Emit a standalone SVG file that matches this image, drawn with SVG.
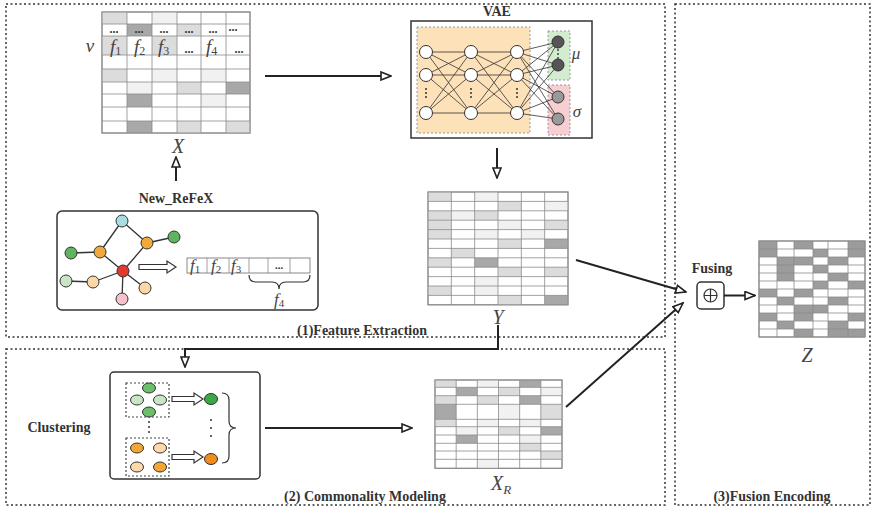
<svg xmlns="http://www.w3.org/2000/svg" width="876" height="511" viewBox="0 0 876 511">
  <defs>
    <style>
      .region{fill:none;stroke:#333;stroke-width:1.5;stroke-dasharray:2 2.5}
      .box{fill:#fff;stroke:#333;stroke-width:1.5}
      .L{fill:#dcdcdc}
      .V{fill:#f1f1f1}
      .D{fill:#a8a8a8}
      .Zd{fill:#9c9c9c}
      .cellbg{fill:#fff;stroke:#8a8a8a;stroke-width:1}
      .grid{fill:none;stroke:#8a8a8a;stroke-width:0.8}
      .lbl{font-family:"Liberation Serif",serif;font-weight:bold;font-size:14px;fill:#333}
      .math{font-family:"Liberation Serif",serif;font-style:italic;fill:#444}
      .edge{fill:none;stroke:#222;stroke-width:2}
      .thin{stroke:#333;stroke-width:0.8}
      .gedge{stroke:#333;stroke-width:1.3}
      .node{stroke:#333;stroke-width:1}
      .dbl{fill:#fff;stroke:#333;stroke-width:1.2}
      .dash{fill:none;stroke:#444;stroke-width:1.2;stroke-dasharray:2 2}
    </style>
    <marker id="open" viewBox="0 0 12 10" refX="11" refY="5" markerWidth="12" markerHeight="10" markerUnits="userSpaceOnUse" orient="auto">
      <path d="M1,1 L11,5 L1,9 Z" fill="#fff" stroke="#222" stroke-width="1.6"/>
    </marker>
  </defs>
  <rect width="876" height="511" fill="#fff"/>

  <!-- stage regions -->
  <g id="regions">
    <rect class="region" x="6" y="4" width="659" height="333"/>
    <rect class="region" x="6" y="349" width="659" height="156"/>
    <rect class="region" x="675" y="4" width="195" height="501"/>
    <text class="lbl" x="362" y="335" text-anchor="middle">(1)Feature Extraction</text>
    <text class="lbl" x="365" y="501" text-anchor="middle">(2)  Commonality Modeling</text>
    <text class="lbl" x="772" y="501" text-anchor="middle">(3)Fusion Encoding</text>
  </g>

  <!-- feature matrix X -->
  <g id="matrix-x">
    <rect class="cellbg" x="102" y="12" width="148" height="121"/>
    <rect class="L" x="102" y="12" width="25" height="12"/>
    <rect class="V" x="152" y="12" width="25" height="12"/>
    <rect class="D" x="127" y="24" width="25" height="12"/>
    <rect class="L" x="177" y="24" width="24" height="12"/>
    <rect class="L" x="102" y="36" width="25" height="19"/>
    <rect class="L" x="152" y="36" width="25" height="19"/>
    <rect class="L" x="102" y="69" width="25" height="13"/>
    <rect class="V" x="152" y="69" width="25" height="13"/>
    <rect class="V" x="201" y="69" width="25" height="13"/>
    <rect class="V" x="127" y="82" width="25" height="12"/>
    <rect class="L" x="177" y="82" width="24" height="12"/>
    <rect class="D" x="226" y="82" width="24" height="12"/>
    <rect class="D" x="127" y="94" width="25" height="13"/>
    <rect class="V" x="201" y="94" width="25" height="13"/>
    <rect class="D" x="127" y="121" width="25" height="12"/>
    <rect class="L" x="177" y="121" width="24" height="12"/>
    <rect class="L" x="226" y="121" width="24" height="12"/>
    <path class="grid" d="M127,12V133M152,12V133M177,12V133M201,12V133M226,12V133M102,24H250M102,36H250M102,55H250M102,69H250M102,82H250M102,94H250M102,107H250M102,121H250"/>
    <rect x="102" y="12" width="148" height="121" fill="none" stroke="#8a8a8a" stroke-width="1"/>
    <g font-family="Liberation Serif, serif" font-size="12" font-weight="bold" fill="#333" text-anchor="middle">
      <text x="114" y="33">...</text>
      <text x="139" y="33">...</text>
      <text x="164" y="33">...</text>
      <text x="189" y="33">...</text>
      <text x="213" y="33">...</text>
      <text x="233" y="31">...</text>
      <text x="189" y="53">...</text>
      <text x="239" y="53">...</text>
    </g>
    <g class="math" font-size="19" fill="#333">
      <text x="110" y="53">f<tspan font-size="12" font-style="normal" dy="2">1</tspan></text>
      <text x="134" y="53">f<tspan font-size="12" font-style="normal" dy="2">2</tspan></text>
      <text x="158" y="53">f<tspan font-size="12" font-style="normal" dy="2">3</tspan></text>
      <text x="206" y="53">f<tspan font-size="12" font-style="normal" dy="2">4</tspan></text>
    </g>
    <text class="math" x="90" y="52" font-size="19" text-anchor="middle">v</text>
    <text class="math" x="178" y="153" font-size="20" text-anchor="middle">X</text>
  </g>

  <!-- VAE encoder -->
  <g id="vae">
    <text class="lbl" x="497" y="16" text-anchor="middle" font-size="15">VAE</text>
    <rect class="box" x="411" y="21" width="181" height="117"/>
    <rect x="417" y="27" width="113" height="106" fill="#fde1b8" stroke="#999" stroke-width="1" stroke-dasharray="2 2"/>
    <rect x="548" y="31" width="22" height="49" fill="#d3ebcf" stroke="#999" stroke-width="1" stroke-dasharray="2 2"/>
    <rect x="548" y="85" width="22" height="50" fill="#f7cfd3" stroke="#999" stroke-width="1" stroke-dasharray="2 2"/>
    <g class="thin">
      <path d="M426,52L471,52M426,52L471,75M426,52L471,113M426,75L471,52M426,75L471,75M426,75L471,113M426,113L471,52M426,113L471,75M426,113L471,113"/>
      <path d="M471,52L517,52M471,52L517,75M471,52L517,113M471,75L517,52M471,75L517,75M471,75L517,113M471,113L517,52M471,113L517,75M471,113L517,113"/>
      <path d="M517,52L558,42M517,52L558,65M517,52L558,97M517,52L558,119M517,75L558,42M517,75L558,65M517,75L558,97M517,75L558,119M517,113L558,42M517,113L558,65M517,113L558,97M517,113L558,119"/>
    </g>
    <g fill="#fff" class="node">
      <circle cx="426" cy="52" r="6.5"/><circle cx="426" cy="75" r="6.5"/><circle cx="426" cy="113" r="6.5"/>
      <circle cx="471" cy="52" r="6.5"/><circle cx="471" cy="75" r="6.5"/><circle cx="471" cy="113" r="6.5"/>
      <circle cx="517" cy="52" r="6.5"/><circle cx="517" cy="75" r="6.5"/><circle cx="517" cy="113" r="6.5"/>
    </g>
    <circle class="node" cx="558" cy="42" r="6" fill="#555"/>
    <circle class="node" cx="558" cy="65" r="6" fill="#555"/>
    <circle class="node" cx="558" cy="97" r="6" fill="#999"/>
    <circle class="node" cx="558" cy="119" r="6" fill="#999"/>
    <g fill="#333">
      <circle cx="426" cy="89" r="1"/><circle cx="426" cy="93" r="1"/><circle cx="426" cy="97" r="1"/>
      <circle cx="471" cy="89" r="1"/><circle cx="471" cy="93" r="1"/><circle cx="471" cy="97" r="1"/>
      <circle cx="517" cy="89" r="1"/><circle cx="517" cy="93" r="1"/><circle cx="517" cy="97" r="1"/>
      <circle cx="558" cy="50" r="0.9"/><circle cx="558" cy="54" r="0.9"/><circle cx="558" cy="58" r="0.9"/>
    </g>
    <text class="math" x="576" y="59" font-size="17" text-anchor="middle">μ</text>
    <text class="math" x="577" y="117" font-size="17" text-anchor="middle">σ</text>
  </g>

  <!-- New_ReFeX feature extractor -->
  <g id="new-refex">
    <text class="lbl" x="176" y="203" text-anchor="middle">New_ReFeX</text>
    <rect class="box" x="57" y="211" width="261" height="99" rx="5"/>
    <g class="gedge">
      <path d="M122,221L100,252M122,221L147,243M147,243L174,237M100,252L71,253M100,252L123,271M147,243L123,271M123,271L93,282M93,282L66,281M123,271L145,288M123,271L122,299"/>
    </g>
    <circle class="node" cx="122" cy="221" r="6" fill="#a9dde2"/>
    <circle class="node" cx="100" cy="252" r="6" fill="#f2a93b"/>
    <circle class="node" cx="147" cy="243" r="6" fill="#f2a93b"/>
    <circle class="node" cx="174" cy="237" r="6" fill="#5fb460"/>
    <circle class="node" cx="71" cy="253" r="6" fill="#5fb460"/>
    <circle class="node" cx="123" cy="271" r="6" fill="#e03a2e"/>
    <circle class="node" cx="66" cy="281" r="6" fill="#c8e6c3"/>
    <circle class="node" cx="93" cy="282" r="6" fill="#fcd8a6"/>
    <circle class="node" cx="145" cy="288" r="6" fill="#fcd8a6"/>
    <circle class="node" cx="122" cy="299" r="6" fill="#f4c2ca"/>
    <path class="dbl" d="M139,264.5H167V261L176,267L167,273V269.5H139Z"/>
    <rect x="187" y="258" width="123" height="15" fill="#fff" stroke="#888" stroke-width="1"/>
    <path class="grid" d="M207,258V273M229,258V273M249,258V273M268,258V273M290,258V273"/>
    <g class="math" font-size="17" fill="#333">
      <text x="190" y="271">f<tspan font-size="11" font-style="normal" dy="2">1</tspan></text>
      <text x="211" y="271">f<tspan font-size="11" font-style="normal" dy="2">2</tspan></text>
      <text x="231" y="271">f<tspan font-size="11" font-style="normal" dy="2">3</tspan></text>
      <text x="274" y="305">f<tspan font-size="11" font-style="normal" dy="2">4</tspan></text>
    </g>
    <text x="279" y="269" font-family="Liberation Serif, serif" font-size="11" font-weight="bold" fill="#333" text-anchor="middle">...</text>
    <path d="M249,275Q249,282 256,282L272,282Q279,282 279,289Q279,282 286,282L303,282Q310,282 310,275" fill="none" stroke="#333" stroke-width="1.2"/>
  </g>

  <!-- embedding matrix Y -->
  <g id="matrix-y" transform="translate(428,192)">
    <rect class="cellbg" x="0" y="0" width="140" height="112.8"/>
    <rect class="L" x="0" y="0" width="23.33" height="9.4"/>
    <rect class="V" x="46.67" y="0" width="23.33" height="9.4"/>
    <rect class="L" x="70" y="9.4" width="23.33" height="9.4"/>
    <rect class="V" x="116.67" y="9.4" width="23.33" height="9.4"/>
    <rect class="L" x="0" y="18.8" width="23.33" height="9.4"/>
    <rect class="V" x="23.33" y="18.8" width="23.33" height="9.4"/>
    <rect class="L" x="46.67" y="18.8" width="23.33" height="9.4"/>
    <rect class="L" x="0" y="28.2" width="23.33" height="9.4"/>
    <rect class="V" x="70" y="28.2" width="23.33" height="9.4"/>
    <rect class="L" x="116.67" y="28.2" width="23.33" height="9.4"/>
    <rect class="L" x="0" y="37.6" width="23.33" height="9.4"/>
    <rect class="V" x="46.67" y="37.6" width="23.33" height="9.4"/>
    <rect class="V" x="93.33" y="37.6" width="23.33" height="9.4"/>
    <rect class="L" x="70" y="47" width="23.33" height="9.4"/>
    <rect class="D" x="116.67" y="47" width="23.33" height="9.4"/>
    <rect class="L" x="23.33" y="56.4" width="23.33" height="9.4"/>
    <rect class="L" x="0" y="65.8" width="23.33" height="9.4"/>
    <rect class="D" x="46.67" y="65.8" width="23.33" height="9.4"/>
    <rect class="L" x="70" y="75.2" width="23.33" height="9.4"/>
    <rect class="L" x="116.67" y="75.2" width="23.33" height="9.4"/>
    <rect class="V" x="46.67" y="84.6" width="23.33" height="9.4"/>
    <rect class="L" x="0" y="94" width="23.33" height="9.4"/>
    <rect class="V" x="46.67" y="94" width="23.33" height="9.4"/>
    <rect class="L" x="70" y="103.4" width="23.33" height="9.4"/>
    <rect class="D" x="116.67" y="103.4" width="23.33" height="9.4"/>
    <path class="grid" d="M23.33,0V112.8M46.67,0V112.8M70,0V112.8M93.33,0V112.8M116.67,0V112.8M0,9.4H140M0,18.8H140M0,28.2H140M0,37.6H140M0,47H140M0,56.4H140M0,65.8H140M0,75.2H140M0,84.6H140M0,94H140M0,103.4H140"/>
    <rect x="0" y="0" width="140" height="112.8" fill="none" stroke="#8a8a8a" stroke-width="1"/>
    <text class="math" x="70" y="132" font-size="20" text-anchor="middle">Y</text>
  </g>

  <!-- clustering -->
  <g id="clustering">
    <text class="lbl" x="59" y="432" text-anchor="middle">Clustering</text>
    <rect class="box" x="110" y="372" width="150" height="107" rx="4"/>
    <rect class="dash" x="126" y="383" width="43" height="34"/>
    <rect class="dash" x="126" y="438" width="43" height="38"/>
    <ellipse class="node" cx="149" cy="388" rx="6.5" ry="5" fill="#6cbf6a"/>
    <ellipse class="node" cx="137" cy="400" rx="6.5" ry="5" fill="#c8e6c6"/>
    <ellipse class="node" cx="160" cy="400" rx="6.5" ry="5" fill="#c8e6c6"/>
    <ellipse class="node" cx="149" cy="412" rx="6.5" ry="5" fill="#6cbf6a"/>
    <ellipse class="node" cx="137" cy="448" rx="6.5" ry="5" fill="#f3a636"/>
    <ellipse class="node" cx="160" cy="448" rx="6.5" ry="5" fill="#fcd9a8"/>
    <ellipse class="node" cx="137" cy="467" rx="6.5" ry="5" fill="#fcd9a8"/>
    <ellipse class="node" cx="160" cy="467" rx="6.5" ry="5" fill="#f3a636"/>
    <g fill="#333">
      <circle cx="149" cy="422" r="1"/><circle cx="149" cy="427" r="1"/><circle cx="149" cy="432" r="1"/>
      <circle cx="211" cy="420" r="1"/><circle cx="211" cy="428" r="1"/><circle cx="211" cy="436" r="1"/>
    </g>
    <path class="dbl" d="M172,396.5H194V393L203,399L194,405V401.5H172Z"/>
    <path class="dbl" d="M172,454.5H194V451L203,457L194,463V459.5H172Z"/>
    <ellipse class="node" cx="211" cy="399" rx="6.5" ry="5.5" fill="#3aa846"/>
    <ellipse class="node" cx="211" cy="459" rx="6.5" ry="5.5" fill="#f08c1e"/>
    <path d="M222,393Q229,393 229,400L229,421Q229,428 236,428Q229,428 229,435L229,456Q229,463 222,463" fill="none" stroke="#333" stroke-width="1.2"/>
  </g>

  <!-- reduced matrix X_R -->
  <g id="matrix-xr" transform="translate(435,380)">
    <rect class="cellbg" x="0" y="0" width="127" height="88.3"/>
    <rect class="L" x="0" y="0" width="21.17" height="7.3"/>
    <rect class="V" x="42.33" y="0" width="21.17" height="7.3"/>
    <rect class="D" x="84.67" y="0" width="21.17" height="7.3"/>
    <rect class="D" x="21.17" y="7.3" width="21.17" height="8.4"/>
    <rect class="L" x="63.5" y="7.3" width="21.17" height="8.4"/>
    <rect class="V" x="105.83" y="7.3" width="21.17" height="8.4"/>
    <rect class="L" x="0" y="15.7" width="21.17" height="8.6"/>
    <rect class="L" x="42.33" y="15.7" width="21.17" height="8.6"/>
    <rect class="D" x="84.67" y="15.7" width="21.17" height="8.6"/>
    <rect class="D" x="0" y="24.3" width="21.17" height="15"/>
    <rect class="V" x="63.5" y="24.3" width="21.17" height="15"/>
    <rect class="L" x="105.83" y="24.3" width="21.17" height="15"/>
    <rect class="L" x="0" y="39.3" width="21.17" height="7.4"/>
    <rect class="V" x="42.33" y="39.3" width="21.17" height="7.4"/>
    <rect class="V" x="84.67" y="39.3" width="21.17" height="7.4"/>
    <rect class="V" x="21.17" y="46.7" width="21.17" height="8.3"/>
    <rect class="L" x="63.5" y="46.7" width="21.17" height="8.3"/>
    <rect class="D" x="105.83" y="46.7" width="21.17" height="8.3"/>
    <rect class="D" x="21.17" y="55" width="21.17" height="8.3"/>
    <rect class="V" x="84.67" y="55" width="21.17" height="8.3"/>
    <rect class="L" x="84.67" y="63.3" width="21.17" height="7.7"/>
    <rect class="L" x="105.83" y="71" width="21.17" height="8.3"/>
    <rect class="V" x="42.33" y="79.3" width="21.17" height="9"/>
    <path class="grid" d="M21.17,0V88.3M42.33,0V88.3M63.5,0V88.3M84.67,0V88.3M105.83,0V88.3M0,7.3H127M0,15.7H127M0,24.3H127M0,39.3H127M0,46.7H127M0,55H127M0,63.3H127M0,71H127M0,79.3H127"/>
    <rect x="0" y="0" width="127" height="88.3" fill="none" stroke="#8a8a8a" stroke-width="1"/>
    <text class="math" x="66" y="110" font-size="20" text-anchor="middle">X<tspan font-size="13" dy="4">R</tspan></text>
  </g>

  <!-- fusion operator -->
  <g id="fusing">
    <text class="lbl" x="712" y="273" text-anchor="middle">Fusing</text>
    <rect class="box" x="697" y="282" width="27" height="27" rx="4"/>
    <circle cx="710.5" cy="295.5" r="6.5" fill="none" stroke="#333" stroke-width="1.2"/>
    <path d="M704,295.5H717M710.5,289V302" stroke="#333" stroke-width="1.2"/>
  </g>

  <!-- fused matrix Z -->
  <g id="matrix-z" transform="translate(759,241)">
    <rect class="cellbg" x="0" y="0" width="106" height="96"/>
    <g class="Zd">
      <rect x="0" y="0" width="18" height="8"/><rect x="35" y="0" width="19" height="8"/><rect x="89" y="0" width="17" height="8"/>
      <rect x="0" y="8" width="18" height="8"/><rect x="54" y="8" width="15" height="8"/><rect x="89" y="8" width="17" height="8"/>
      <rect x="18" y="16" width="17" height="8"/><rect x="35" y="16" width="19" height="8"/><rect x="69" y="16" width="20" height="8"/>
      <rect x="18" y="24" width="17" height="8"/><rect x="54" y="24" width="15" height="8"/>
      <rect x="18" y="32" width="17" height="8"/><rect x="69" y="32" width="20" height="8"/>
      <rect x="54" y="40" width="15" height="8"/><rect x="89" y="40" width="17" height="8"/>
      <rect x="0" y="48" width="18" height="8"/><rect x="35" y="48" width="19" height="8"/>
      <rect x="18" y="56" width="17" height="8"/><rect x="69" y="56" width="20" height="8"/>
      <rect x="35" y="64" width="19" height="8"/><rect x="54" y="64" width="15" height="8"/>
      <rect x="0" y="72" width="18" height="8"/><rect x="35" y="72" width="19" height="8"/><rect x="89" y="72" width="17" height="8"/>
      <rect x="18" y="80" width="17" height="8"/><rect x="69" y="80" width="20" height="8"/>
      <rect x="35" y="88" width="19" height="8"/><rect x="69" y="88" width="20" height="8"/><rect x="89" y="88" width="17" height="8"/>
    </g>
    <path class="grid" d="M18,0V96M35,0V96M54,0V96M69,0V96M89,0V96M0,8H106M0,16H106M0,24H106M0,32H106M0,40H106M0,48H106M0,56H106M0,64H106M0,72H106M0,80H106M0,88H106"/>
    <rect x="0" y="0" width="106" height="96" fill="none" stroke="#8a8a8a" stroke-width="1"/>
    <text class="math" x="48" y="121" font-size="20" text-anchor="middle">Z</text>
  </g>

  <!-- connectors -->
  <g id="connectors">
    <path class="edge" d="M176,181V157" marker-end="url(#open)"/>
    <path class="edge" d="M265,76H391" marker-end="url(#open)"/>
    <path class="edge" d="M497,148V178" marker-end="url(#open)"/>
    <path class="edge" d="M498,325V349H185V367" marker-end="url(#open)"/>
    <path class="edge" d="M265,428H412" marker-end="url(#open)"/>
    <path class="edge" d="M576,260L686,292" marker-end="url(#open)"/>
    <path class="edge" d="M566,407L683,303" marker-end="url(#open)"/>
    <path class="edge" d="M724,295.5H755" marker-end="url(#open)"/>
  </g>
</svg>
